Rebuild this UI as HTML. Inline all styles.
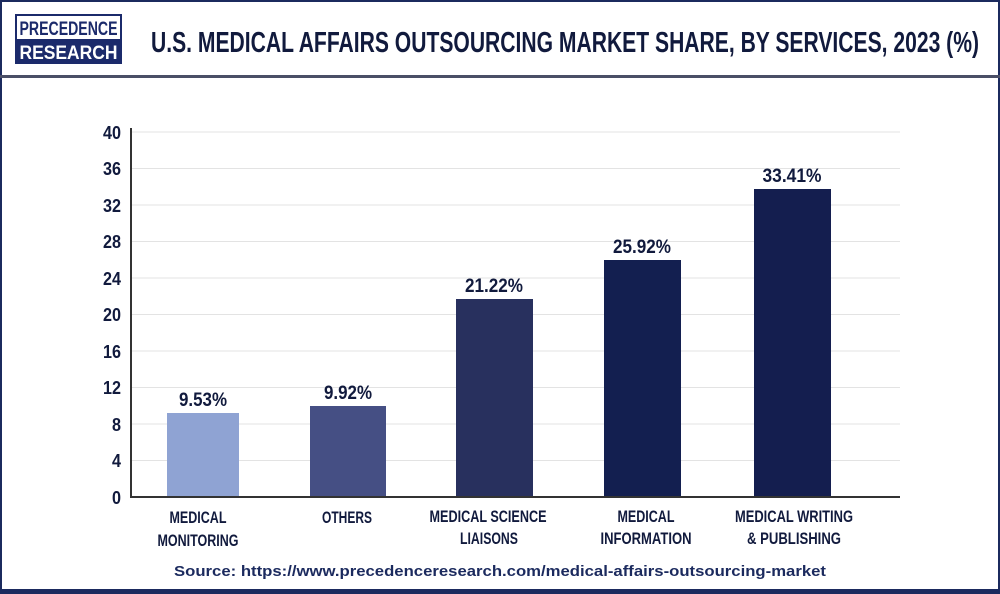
<!DOCTYPE html>
<html><head><style>
html,body{margin:0;padding:0;background:#fff;}
svg{display:block;}
text{font-family:"Liberation Sans Narrow","Liberation Sans",sans-serif;font-weight:bold;}
</style></head><body>
<svg width="1000" height="594" viewBox="0 0 1000 594" xmlns="http://www.w3.org/2000/svg">
<rect x="0" y="0" width="1000" height="594" fill="#fff"/>
<rect x="1" y="1" width="998" height="592" fill="none" stroke="#1b2a5e" stroke-width="2"/>
<rect x="0" y="589" width="1000" height="5" fill="#1b2a5e"/>
<rect x="0" y="75" width="1000" height="3" fill="#4a4f66"/>
<!-- logo -->
<rect x="15" y="14" width="107" height="50" fill="#1b2a6b"/>
<rect x="17" y="16" width="103" height="23" fill="#fff"/>
<text x="68.5" y="35" font-size="19" fill="#1b2a6b" text-anchor="middle" textLength="98" lengthAdjust="spacingAndGlyphs">PRECEDENCE</text>
<text x="68.5" y="59" font-size="19" fill="#fff" text-anchor="middle" textLength="98" lengthAdjust="spacingAndGlyphs">RESEARCH</text>
<text x="151" y="52" font-size="29" fill="#111a3d" textLength="828" lengthAdjust="spacingAndGlyphs">U.S. MEDICAL AFFAIRS OUTSOURCING MARKET SHARE, BY SERVICES, 2023 (%)</text>
<!-- grid -->
<g stroke="#e3e3e3" stroke-width="1">
<line x1="131" x2="900" y1="132" y2="132"/><line x1="131" x2="900" y1="168.5" y2="168.5"/>
<line x1="131" x2="900" y1="205" y2="205"/><line x1="131" x2="900" y1="241.5" y2="241.5"/>
<line x1="131" x2="900" y1="278" y2="278"/><line x1="131" x2="900" y1="314.5" y2="314.5"/>
<line x1="131" x2="900" y1="351" y2="351"/><line x1="131" x2="900" y1="387.5" y2="387.5"/>
<line x1="131" x2="900" y1="424" y2="424"/><line x1="131" x2="900" y1="460.5" y2="460.5"/>
</g>
<g font-size="18" fill="#111a3d" text-anchor="end">
<text x="121" y="139" textLength="18" lengthAdjust="spacingAndGlyphs">40</text><text x="121" y="175" textLength="18" lengthAdjust="spacingAndGlyphs">36</text><text x="121" y="212" textLength="18" lengthAdjust="spacingAndGlyphs">32</text>
<text x="121" y="248" textLength="18" lengthAdjust="spacingAndGlyphs">28</text><text x="121" y="285" textLength="18" lengthAdjust="spacingAndGlyphs">24</text><text x="121" y="321" textLength="18" lengthAdjust="spacingAndGlyphs">20</text>
<text x="121" y="358" textLength="18" lengthAdjust="spacingAndGlyphs">16</text><text x="121" y="394" textLength="18" lengthAdjust="spacingAndGlyphs">12</text><text x="121" y="431" textLength="9" lengthAdjust="spacingAndGlyphs">8</text>
<text x="121" y="467" textLength="9" lengthAdjust="spacingAndGlyphs">4</text><text x="121" y="504" textLength="9" lengthAdjust="spacingAndGlyphs">0</text>
</g>
<!-- bars -->
<rect x="167" y="413" width="72" height="84" fill="#8fa3d3"/>
<rect x="310" y="406" width="76" height="91" fill="#454f84"/>
<rect x="456" y="299" width="77" height="198" fill="#28305e"/>
<rect x="604" y="260" width="77" height="237" fill="#131f50"/>
<rect x="754" y="189" width="77" height="308" fill="#141e4f"/>
<line x1="131" y1="128" x2="131" y2="498" stroke="#333" stroke-width="2"/>
<line x1="130" y1="497" x2="900" y2="497" stroke="#333" stroke-width="2"/>
<g font-size="19" fill="#111a3d" text-anchor="middle">
<text x="203" y="406" textLength="48" lengthAdjust="spacingAndGlyphs">9.53%</text>
<text x="348" y="399" textLength="48" lengthAdjust="spacingAndGlyphs">9.92%</text>
<text x="494" y="292" textLength="58" lengthAdjust="spacingAndGlyphs">21.22%</text>
<text x="642" y="253" textLength="58" lengthAdjust="spacingAndGlyphs">25.92%</text>
<text x="792" y="182" textLength="59" lengthAdjust="spacingAndGlyphs">33.41%</text>
</g>
<g font-size="17" fill="#111a3d" text-anchor="middle">
<text x="198" y="523" textLength="57" lengthAdjust="spacingAndGlyphs">MEDICAL</text><text x="198" y="546" textLength="81" lengthAdjust="spacingAndGlyphs">MONITORING</text>
<text x="347" y="523" textLength="50" lengthAdjust="spacingAndGlyphs">OTHERS</text>
<text x="488" y="522" textLength="117" lengthAdjust="spacingAndGlyphs">MEDICAL SCIENCE</text><text x="489" y="544" textLength="58" lengthAdjust="spacingAndGlyphs">LIAISONS</text>
<text x="646" y="522" textLength="57" lengthAdjust="spacingAndGlyphs">MEDICAL</text><text x="646" y="544" textLength="91" lengthAdjust="spacingAndGlyphs">INFORMATION</text>
<text x="794" y="522" textLength="118" lengthAdjust="spacingAndGlyphs">MEDICAL WRITING</text><text x="794" y="544" textLength="94" lengthAdjust="spacingAndGlyphs">&amp; PUBLISHING</text>
</g>
<text x="500" y="576" font-size="15" fill="#1b2a5e" text-anchor="middle" style="font-family:'Liberation Sans',sans-serif" textLength="652" lengthAdjust="spacingAndGlyphs">Source: https://www.precedenceresearch.com/medical-affairs-outsourcing-market</text>
</svg>
</body></html>
